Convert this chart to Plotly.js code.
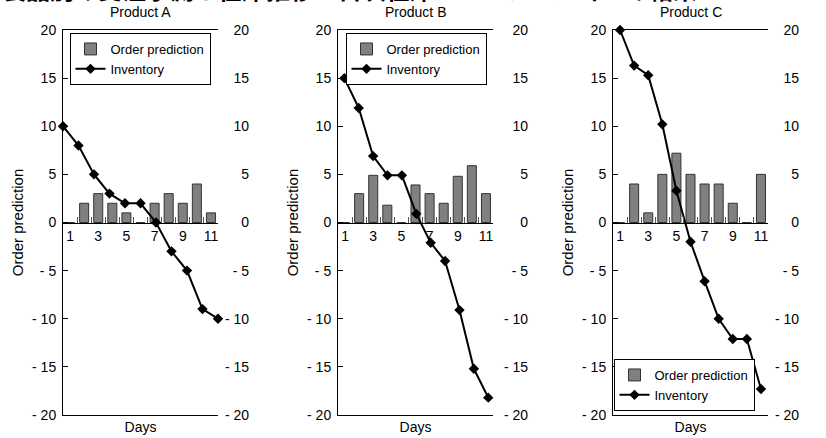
<!DOCTYPE html>
<html><head><meta charset="utf-8">
<script src="https://cdn.plot.ly/plotly-3.0.1.min.js"></script>
<style>html,body{margin:0;padding:0;background:#fff;}</style>
</head><body><div id="chart" style="width:826px;height:438px;"></div>
<script>
// ---- data ----
const chartTitle = "製品別の受注予測と在庫推移：日次在庫シミュレーションの結果";
const productNames = ["Product A", "Product B", "Product C"];
const days = ["1","2","3","4","5","6","7","8","9","10","11"];
const dayNums = [1,2,3,4,5,6,7,8,9,10,11];
const xTickText = ["1","","3","","5","","7","","9","","11"];
const yTickVals = [-20,-15,-10,-5,0,5,10,15,20];
const yTickText = ["- 20","- 15","- 10","- 5","0","5","10","15","20"];
const orderA = [0,2,3,2,1,0,2,3,2,4,1];
const invA   = [10,8,5,3,2,2,0,-3,-5,-9,-10];
const orderB = [0,3,4.9,1.8,0,3.9,3,2,4.8,5.9,3];
const invB   = [15,11.9,6.9,4.9,4.9,0.9,-2.1,-4,-9.1,-15.2,-18.2];
const orderC = [0,4,1,5,7.2,5,4,4,2,0,5];
const invC   = [20,16.3,15.3,10.2,3.3,-2,-6.1,-10,-12.1,-12.1,-17.3];
const seriesNames = ["Order prediction", "Inventory"];

// ---- layout helpers ----
const W = 826, H = 438;
const px = v => v / W;
const py = v => 1 - v / H;
const FONT = "Liberation Sans, Arial, sans-serif";
const yDom = [py(415), py(30)];
const yZero = (yDom[0] + yDom[1]) / 2;

const panels = [
  {order: orderA, inv: invA, L: 63,  R: 218, lineRange: [1, 11],       rlab: 249, leg: {x: 140, y: 33, anchor: "top"}},
  {order: orderB, inv: invB, L: 338, R: 493, lineRange: [0.56, 11.33], rlab: 528, leg: {x: 416, y: 33, anchor: "top"}},
  {order: orderC, inv: invC, L: 613, R: 768, lineRange: [0.5, 11.5],   rlab: 799, leg: {x: 684, y: 411, anchor: "bottom"}}
];

const axId = (l, n) => n === 1 ? l : l + n;
const axKey = (l, n) => n === 1 ? l + "axis" : l + "axis" + n;

const traces = [];
const layout = {
  width: W, height: H,
  margin: {l: 0, r: 0, t: 0, b: 0},
  paper_bgcolor: "#fff", plot_bgcolor: "#fff",
  font: {family: FONT, size: 14, color: "#000"},
  bargap: 0.36,
  showlegend: true,
  annotations: [{
    text: chartTitle, xref: "paper", yref: "paper",
    x: 0, xanchor: "left", y: py(8), yanchor: "bottom", showarrow: false,
    font: {family: "Noto Sans CJK JP", size: 24, color: "#000", weight: "bold"}
  }]
};

panels.forEach((p, i) => {
  const xb = 2 * i + 1, xl = 2 * i + 2;
  const yL = 3 * i + 1, yR = 3 * i + 2, yRL = 3 * i + 3;
  const legId = i === 0 ? "legend" : "legend" + (i + 1);

  traces.push({
    type: "bar", x: days, y: p.order, name: seriesNames[0],
    xaxis: axId("x", xb), yaxis: axId("y", yL), legend: legId,
    marker: {color: "#808080", line: {color: "#333", width: 1}},
    hoverinfo: "skip"
  });
  traces.push({
    type: "scatter", mode: "lines+markers", x: dayNums, y: p.inv, name: seriesNames[1],
    xaxis: axId("x", xl), yaxis: axId("y", yRL), legend: legId,
    line: {color: "#000", width: 2},
    marker: {symbol: "diamond", size: 8, color: "#000"},
    cliponaxis: false, hoverinfo: "skip"
  });

  layout[axKey("x", xb)] = {
    type: "category", domain: [px(p.L), px(p.R)], anchor: "free", position: yZero,
    categoryorder: "array", categoryarray: days, range: [-0.5, 10.5],
    tickmode: "array", tickvals: days, ticktext: xTickText, tickson: "boundaries",
    tickangle: 0,
    ticks: "inside", ticklen: 6, tickcolor: "#555", tickwidth: 1,
    showline: true, linecolor: "#000", linewidth: 1,
    showgrid: false, zeroline: false, tickfont: {size: 14}, ticklabelstandoff: 1,
    fixedrange: true
  };
  layout[axKey("x", xl)] = {
    type: "linear", overlaying: axId("x", xb), range: p.lineRange,
    anchor: axId("y", yL), side: "bottom",
    showline: true, mirror: true, linecolor: "#000", linewidth: 1,
    ticks: "", showticklabels: false, showgrid: false, zeroline: false,
    title: {text: "Days", font: {size: 14}, standoff: 7}, fixedrange: true
  };
  layout[axKey("y", yL)] = {
    domain: yDom, range: [-20, 20], anchor: axId("x", xb), side: "left",
    showline: true, linecolor: "#000", linewidth: 1,
    ticks: "inside", ticklen: 5, tickcolor: "#000",
    tickmode: "array", tickvals: yTickVals, ticktext: yTickText,
    showgrid: false, zeroline: false, tickfont: {size: 14}, ticklabelstandoff: 3,
    title: {text: "Order prediction", font: {size: 15}, standoff: 4}, fixedrange: true
  };
  layout[axKey("y", yR)] = {
    overlaying: axId("y", yL), side: "right", anchor: axId("x", xb), range: [-20, 20],
    showline: true, linecolor: "#808080", linewidth: 1,
    ticks: "inside", ticklen: 5, tickcolor: "#000",
    tickmode: "array", tickvals: yTickVals, showticklabels: false,
    showgrid: false, zeroline: false,
    title: {text: "Inventory", font: {size: 15}, standoff: 42}, fixedrange: true
  };
  layout[axKey("y", yRL)] = {
    overlaying: axId("y", yL), side: "left", anchor: "free", position: px(p.rlab),
    range: [-20, 20], ticks: "", showline: false,
    tickmode: "array", tickvals: yTickVals, ticktext: yTickText,
    showgrid: false, zeroline: false, tickfont: {size: 14}, ticklabelstandoff: 0, fixedrange: true
  };

  layout[legId] = {
    x: px(p.leg.x), xanchor: "center", y: py(p.leg.y), yanchor: p.leg.anchor,
    xref: "paper", yref: "paper",
    bordercolor: "#000", borderwidth: 1, bgcolor: "#fff",
    font: {size: 13}, tracegroupgap: 0, traceorder: "normal"
  };

  layout.annotations.push({
    text: productNames[i], xref: "paper", yref: "paper",
    x: px((p.L + p.R) / 2), y: py(12), xanchor: "center", yanchor: "middle",
    showarrow: false, font: {size: 14}
  });
});

Plotly.newPlot("chart", traces, layout, {staticPlot: true, displayModeBar: false});
</script>
</body></html>
